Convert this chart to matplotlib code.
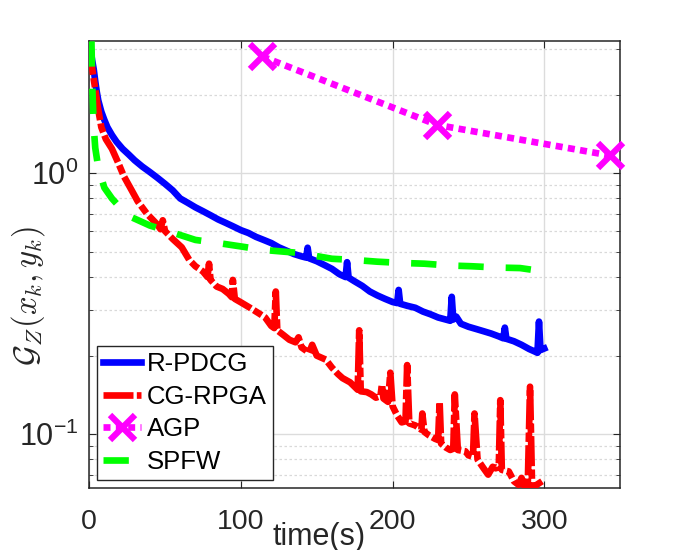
import matplotlib
matplotlib.use("Agg")
import matplotlib.pyplot as plt
from matplotlib.ticker import LogLocator, NullFormatter, FixedLocator

plt.rcParams['font.family'] = ['Liberation Sans', 'DejaVu Sans']
plt.rcParams['mathtext.fontset'] = 'cm'

# R-PDCG
t_rpdcg = [1, 2, 3, 4, 5, 6, 8, 10, 12, 15, 18, 22, 26, 30, 35, 40, 45, 50, 55, 60,
           65, 70, 75, 80, 85, 90, 95, 100, 105, 110, 115, 120, 125, 130, 135, 140,
           143, 144, 145, 150, 155, 160, 165, 169, 170, 171, 175, 180, 185, 190, 195,
           200, 203, 204, 205, 210, 215, 220, 225, 230, 235, 238, 239, 240, 242, 245,
           250, 255, 260, 265, 270, 273, 274, 275, 280, 285, 290, 294, 295.5, 296.5,
           297.5, 300]
g_rpdcg = [2.95, 2.7, 2.5, 2.25, 2.05, 1.9, 1.72, 1.6, 1.5, 1.4, 1.32, 1.24, 1.18, 1.12,
           1.06, 1.01, 0.96, 0.91, 0.86, 0.80, 0.77, 0.74, 0.715, 0.69, 0.665, 0.645,
           0.625, 0.605, 0.59, 0.57, 0.555, 0.54, 0.52, 0.505, 0.49, 0.48, 0.475, 0.518,
           0.472, 0.46, 0.445, 0.43, 0.41, 0.40, 0.456, 0.398, 0.385, 0.37, 0.352, 0.34,
           0.33, 0.321, 0.318, 0.357, 0.316, 0.31, 0.305, 0.295, 0.288, 0.28, 0.275,
           0.272, 0.336, 0.275, 0.282, 0.265, 0.258, 0.253, 0.248, 0.243, 0.237, 0.233,
           0.256, 0.232, 0.227, 0.22, 0.212, 0.207, 0.205, 0.27, 0.21, 0.213]

# CG-RPGA
t_cgrpga = [0, 1, 2, 4, 6, 8, 11, 15, 19, 23, 28, 32, 38, 45, 47, 48.5, 50, 55, 61, 66,
            70, 75, 78, 79, 80, 84, 88, 92, 94, 94.7, 96, 100, 106, 112, 116, 120, 122,
            123, 124, 128, 132, 136, 138, 140, 145, 147, 150, 156, 160, 164, 167, 172,
            177, 178, 179, 183, 186, 189, 192, 193, 194, 197, 198.5, 200, 203, 206,
            208.5, 209.6, 211, 215, 219, 219.6, 221, 224, 228, 230, 231, 232, 235, 238,
            240, 241, 243, 248, 250, 253, 254, 256, 260, 263, 266, 268, 270, 271, 272,
            276.6, 280, 283, 285, 287, 289, 290.6, 292, 295, 298.5]
g_cgrpga = [3.1, 2.8, 2.5, 2.1, 1.75, 1.5, 1.35, 1.24, 1.1, 0.97, 0.86, 0.78, 0.70,
            0.635, 0.61, 0.66, 0.6, 0.56, 0.52, 0.465, 0.44, 0.42, 0.40, 0.45, 0.39,
            0.368, 0.36, 0.345, 0.335, 0.39, 0.33, 0.32, 0.305, 0.29, 0.28, 0.26, 0.255,
            0.352, 0.25, 0.24, 0.23, 0.225, 0.235, 0.215, 0.205, 0.22, 0.2, 0.193, 0.18,
            0.17, 0.164, 0.158, 0.148, 0.25, 0.146, 0.145, 0.142, 0.138, 0.14, 0.155,
            0.137, 0.133, 0.172, 0.128, 0.118, 0.111, 0.112, 0.184, 0.11, 0.108, 0.104,
            0.12, 0.102, 0.099, 0.096, 0.095, 0.133, 0.092, 0.089, 0.087, 0.088, 0.142,
            0.087, 0.086, 0.083, 0.082, 0.12, 0.08, 0.074, 0.07, 0.075, 0.074, 0.075,
            0.135, 0.073, 0.072, 0.066, 0.064, 0.068, 0.063, 0.06, 0.152, 0.061, 0.064,
            0.066]

# AGP
t_agp = [114, 229.5, 343]
g_agp = [2.8, 1.53, 1.17]

# SPFW
t_spfw = [1.5, 2, 3, 4, 6, 10, 15, 25, 40, 52, 70, 85, 100, 115, 138, 160, 175, 190,
          206, 221, 237, 252, 269, 284, 300]
g_spfw = [3.2, 2.2, 1.5, 1.25, 1.05, 0.88, 0.80, 0.69, 0.63, 0.60, 0.555, 0.54, 0.524,
          0.508, 0.495, 0.47, 0.465, 0.458, 0.453, 0.45, 0.443, 0.44, 0.435, 0.433, 0.42]

fig = plt.figure(figsize=(6.86, 5.5), dpi=100)
ax = fig.add_axes([0.130, 0.1127, 0.774, 0.8128])

lw = 4.8
ax.plot(t_rpdcg, g_rpdcg, color=(0, 0, 1), lw=lw, label='R-PDCG', zorder=3)
ax.plot(t_cgrpga, g_cgrpga, color=(1, 0, 0), lw=lw, ls=(0, (4.5, 0.5, 1.4, 0.5)),
        label='CG-RPGA', zorder=4)
ax.plot(t_agp, g_agp, color=(1, 0, 1), lw=lw, ls=(0, (1.05, 0.8)), marker='x',
        markersize=18, markeredgewidth=4.5, label='AGP', zorder=5, clip_on=False)
ax.plot(t_spfw, g_spfw, color=(0, 1, 0), lw=lw, ls=(0, (3.8, 3.3)), label='SPFW', zorder=6)

ax.set_yscale('log')
ax.set_xlim(0, 350)
ax.set_ylim(0.0622, 3.21)
ax.xaxis.set_major_locator(FixedLocator([0, 100, 200, 300]))
ax.yaxis.set_minor_locator(LogLocator(base=10, subs=range(2, 10)))
ax.yaxis.set_minor_formatter(NullFormatter())

ax.grid(True, which='major', color='#dcdcdc', lw=1, ls='-')
ax.grid(True, which='minor', axis='y', color='#d9d9d9', lw=0.9, ls=(0, (2, 2)))
ax.set_axisbelow(True)

for s in ax.spines.values():
    s.set_color('#262626')
    s.set_linewidth(1.1)
ax.tick_params(which='both', direction='in', top=True, right=True, color='#262626',
               labelcolor='#262626')
ax.tick_params(axis='x', which='major', length=5, pad=15, labelsize=20.5)
ax.tick_params(axis='y', which='major', length=5, pad=8, labelsize=22)
ax.tick_params(axis='y', which='minor', length=3)

ax.set_xlabel('time(s)', fontsize=22, color='#262626')
ax.xaxis.set_label_coords(0.433, -0.075)
ax.set_ylabel(r'$\mathcal{G}_Z(x_k, y_k)$', fontsize=23.5, color='#262626')
ax.yaxis.set_label_coords(-0.08, 0.43)

leg = ax.legend(loc='lower left', fontsize=18.5, frameon=True, fancybox=False,
                edgecolor='#262626', framealpha=1, handlelength=1.45,
                handletextpad=0.25, labelspacing=0.33, borderpad=0.25,
                borderaxespad=0.3)
leg.get_frame().set_linewidth(1)

fig.savefig('out.png', dpi=100)
